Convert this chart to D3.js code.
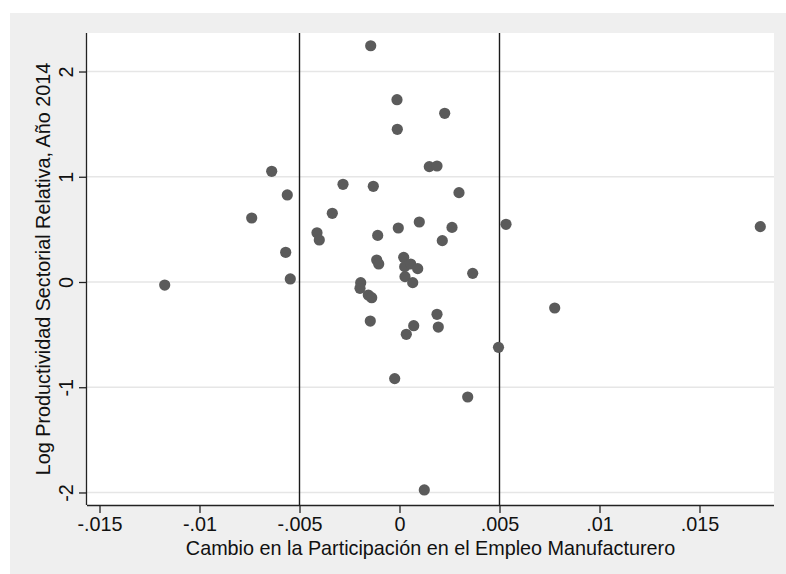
<!DOCTYPE html>
<html><head><meta charset="utf-8">
<script src="https://cdn.jsdelivr.net/npm/d3@7"></script>
<style>body{margin:0;background:#fff;} svg{display:block;font-family:"Liberation Sans",Arial,Helvetica,sans-serif;}</style>
</head><body>
<svg id="c" width="786" height="574"></svg>
<script>
const xValues = [-0.01174,-0.00739,-0.00639,-0.00561,-0.00569,-0.00546,-0.004125,-0.00401,-0.00336,-0.002825,
 -0.00194,-0.001975,-0.00156,-0.00139,-0.00146,-0.00144,-0.00131,-0.00109,-0.00114,-0.00104,
 -0.00024,-0.000125,-0.00011,-0.00006,0.00021,0.00026,0.000275,0.00034,0.00056,0.00066,
 0.00071,0.00091,0.00099,0.00124,0.00149,0.001875,0.001875,0.00194,0.00214,0.00226,
 0.002625,0.002975,0.00341,0.00366,0.00495,0.005325,0.00776,0.01804];
const yValues = [-0.029,0.608,1.052,0.827,0.282,0.029,0.468,0.399,0.653,0.928,
 -0.006,-0.06,-0.124,-0.149,-0.371,2.245,0.909,0.443,0.209,0.171,
 -0.918,1.732,1.451,0.513,0.234,0.146,0.051,-0.497,0.171,-0.006,
 -0.415,0.127,0.570,-1.976,1.096,1.102,-0.307,-0.428,0.393,1.603,
 0.519,0.849,-1.093,0.082,-0.621,0.548,-0.247,0.526];
const xTicks = [-0.015,-0.01,-0.005,0,0.005,0.01,0.015];
const xTickLabels = ["-.015","-.01","-.005","0",".005",".01",".015"];
const yTicks = [-2,-1,0,1,2];
const yTickLabels = ["-2","-1","0","1","2"];
const refLines = [-0.005, 0.005];
const xTitle = "Cambio en la Participación en el Empleo Manufacturero";
const yTitle = "Log Productividad Sectorial Relativa, Año 2014";

const FS = 19.8;
const svg = d3.select("#c");
const L=87, R=774, T=33, B=505;
const x = d3.scaleLinear().domain([-0.015625, 0.018725]).range([L, R]);
const y = d3.scaleLinear().domain([-2.119, 2.366]).range([B, T]);

svg.append("rect").attr("x",10).attr("y",13).attr("width",776).attr("height",561).attr("fill","#efefef");
svg.append("rect").attr("x",L).attr("y",T).attr("width",R-L).attr("height",B-T).attr("fill","#fff");

// gridlines
svg.append("g").selectAll("line").data(yTicks).join("line")
  .attr("x1",L).attr("x2",R).attr("y1",d=>y(d)).attr("y2",d=>y(d))
  .attr("stroke","#e6e6e6").attr("stroke-width",1.5);

// reference lines
svg.append("g").selectAll("line").data(refLines).join("line")
  .attr("x1",d=>x(d)).attr("x2",d=>x(d)).attr("y1",T).attr("y2",B)
  .attr("stroke","#1a1a1a").attr("stroke-width",1.4);

// points
const pts = xValues.map((v,i)=>[v,yValues[i]]);
svg.append("g").selectAll("circle").data(pts).join("circle")
  .attr("cx",d=>x(d[0])).attr("cy",d=>y(d[1])).attr("r",5.6).attr("fill","#5b5b5b");

// axes
const xAxis = d3.axisBottom(x).tickValues(xTicks).tickSize(8).tickPadding(4)
  .tickFormat((d,i)=>xTickLabels[i]);
const gx = svg.append("g").attr("transform",`translate(0,${B})`).call(xAxis);
gx.select(".domain").attr("d",`M${L},0.5H${R}`).attr("stroke","#222").attr("stroke-width",1.3);
gx.selectAll(".tick line").attr("stroke","#222").attr("stroke-width",1.3);
gx.selectAll(".tick text").attr("font-size",FS).attr("fill","#111").attr("font-family",null);

const yAxis = d3.axisLeft(y).tickValues(yTicks).tickSize(8).tickPadding(0)
  .tickFormat((d,i)=>yTickLabels[i]);
const gy = svg.append("g").attr("transform",`translate(${L},0)`).call(yAxis);
gy.select(".domain").attr("d",`M-0.5,${T}V${B}`).attr("stroke","#222").attr("stroke-width",1.3);
gy.selectAll(".tick line").attr("stroke","#222").attr("stroke-width",1.3);
gy.selectAll(".tick text").attr("font-size",FS).attr("fill","#111").attr("font-family",null)
  .attr("x",null).attr("dy",null).attr("text-anchor","middle")
  .attr("transform","translate(-14,0) rotate(-90)");

svg.append("text").attr("x",(L+R)/2).attr("y",555).attr("text-anchor","middle")
  .attr("font-size",FS).attr("fill","#111").text(xTitle);
svg.append("text").attr("transform",`translate(50,${(T+B)/2}) rotate(-90)`).attr("text-anchor","middle")
  .attr("font-size",FS).attr("fill","#111").text(yTitle);
</script>
</body></html>
